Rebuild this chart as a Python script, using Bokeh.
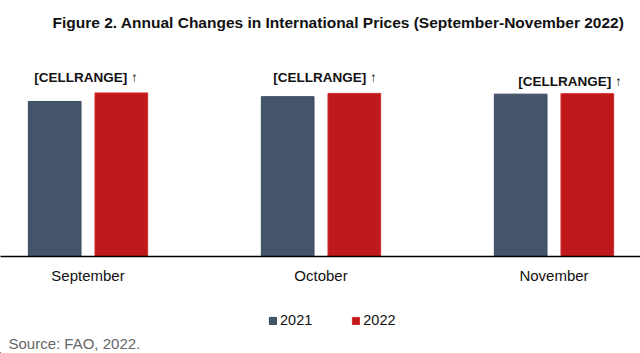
from bokeh.plotting import figure
from bokeh.layouts import column
from bokeh.models import (Range1d, FixedTicker, Label, Legend, LegendItem, ColumnDataSource)
from bokeh.core.properties import value
from bokeh.embed import file_html
from bokeh.resources import INLINE

# ---- data ----
months = ["September", "October", "November"]
values_2021 = [129.2, 133.2, 135.3]
values_2022 = [136.3, 135.9, 135.7]
bar_labels = ["[CELLRANGE] \u2191", "[CELLRANGE] \u2191", "[CELLRANGE] \u2191"]
series_names = ["2021", "2022"]
title_text = "Figure 2. Annual Changes in International Prices (September-November 2022)"
source_text = "Source: FAO, 2022."

# ---- style ----
C2021 = "#44546A"
C2022 = "#C0191B"
FONT = "Liberation Sans"

xs = list(range(len(months)))
offset = 0.143
bw = 0.226
PX_PER_UNIT = 1.2
FRAME_H = 256

p = figure(width=640, height=290, output_backend="svg", toolbar_location=None,
           x_range=Range1d(-87.5 / 233, (640 - 87.5) / 233),
           y_range=Range1d(0, FRAME_H / PX_PER_UNIT),
           min_border_left=0, min_border_right=0, min_border_top=0, min_border_bottom=34,
           y_axis_location=None)
p.outline_line_color = None
p.xgrid.visible = False
p.ygrid.visible = False
p.background_fill_color = "white"
p.border_fill_color = "white"

src = ColumnDataSource(dict(x=xs, v21=values_2021, v22=values_2022, lab=bar_labels,
                            xo=[-2, 4, 16], yo=[-15, -16, -12.5]))
r1 = p.vbar(x=[x - offset for x in xs], top=values_2021, width=bw, bottom=0,
            fill_color=C2021, line_color="#3A4860", line_width=1)
r2 = p.vbar(x=[x + offset for x in xs], top=values_2022, width=bw, bottom=0,
            fill_color=C2022, line_color="#D42A2A", line_width=1)

p.text(x="x", y="v22", text="lab", source=src, x_offset="xo", y_offset="yo",
       text_align="center", text_baseline="middle", text_font=value(FONT),
       text_font_size="13.5px", text_font_style="bold", text_color="#111111")

ax = p.xaxis[0]
ax.ticker = FixedTicker(ticks=xs)
ax.major_label_overrides = {i: m for i, m in enumerate(months)}
ax.major_tick_out = 0
ax.major_tick_in = 0
ax.minor_tick_out = 0
ax.minor_tick_in = 0
ax.axis_line_color = "#000000"
ax.axis_line_width = 1.3
ax.major_label_standoff = 10
ax.major_label_text_font = FONT
ax.major_label_text_font_size = "15px"
ax.major_label_text_color = "#111111"

p.add_layout(Label(x=(338 - 87.5) / 233, y=(FRAME_H - 22) / PX_PER_UNIT, text=title_text,
                   text_align="center", text_baseline="middle", text_font=FONT,
                   text_font_size="15.5px", text_font_style="bold", text_color="#111111"))

# ---- bottom strip: legend + source ----
q = figure(width=640, height=63, output_backend="svg", toolbar_location=None,
           x_range=Range1d(0, 640), y_range=Range1d(0, 63),
           min_border=0, x_axis_location=None, y_axis_location=None)
q.outline_line_color = None
q.xgrid.visible = False
q.ygrid.visible = False
q.background_fill_color = "white"
q.border_fill_color = "white"

g1 = q.vbar(x=[-100], top=[1], width=1, fill_color=C2021, line_color="#3A4860", line_width=1)
g2 = q.vbar(x=[-100], top=[1], width=1, fill_color=C2022, line_color="#D42A2A", line_width=1)

legend = Legend(items=[LegendItem(label=series_names[0], renderers=[g1]),
                       LegendItem(label=series_names[1], renderers=[g2])],
                location=(268, 25), orientation="horizontal",
                padding=0, margin=0, spacing=39, glyph_width=9, glyph_height=9,
                label_standoff=3, label_height=16, label_text_font=FONT,
                label_text_font_size="14.5px", label_text_color="#111111",
                border_line_color=None, background_fill_alpha=0)
q.add_layout(legend, "center")

q.add_layout(Label(x=8, y=10, text=source_text,
                   text_align="left", text_baseline="middle", text_font=FONT,
                   text_font_size="15px", text_color="#666666"))

layout = column(p, q, spacing=0)
open("out.html", "w").write(file_html(layout, INLINE))
